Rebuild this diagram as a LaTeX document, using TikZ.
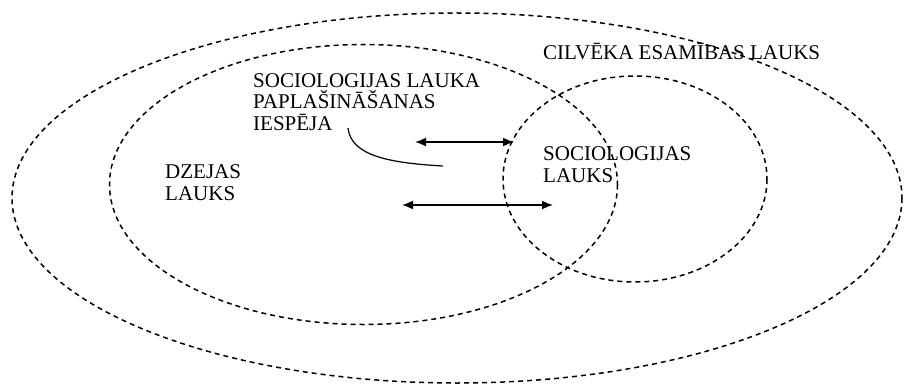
\documentclass[tikz,border=0pt]{standalone}
\usepackage{fontspec}
\setmainfont{Liberation Serif}
\usetikzlibrary{arrows.meta}
\begin{document}
\begin{tikzpicture}[x=1pt,y=-1pt,
  field/.style={draw=black,line width=1.5pt,dash pattern=on 5pt off 4pt},
  lbl/.style={font=\fontsize{21}{21.5}\selectfont,inner sep=0pt,anchor=base west,align=left},
  dbl/.style={line width=1.6pt,{Latex[length=11pt,width=9pt]}-{Latex[length=11pt,width=9pt]}}]
\useasboundingbox (0,0) rectangle (904,385);
% fields
\draw[field] (457,198) ellipse [x radius=445, y radius=185];
\draw[field] (363.5,184.5) ellipse [x radius=254, y radius=140];
\draw[field] (635,179) ellipse [x radius=132, y radius=103];
% labels (base anchor = baseline of the last line)
\node[lbl] (cel) at (543,60) {CILVĒKA ESAMĪBAS LAUKS};
\node[lbl] (spl) at (253,130) {SOCIOLOGIJAS LAUKA\\PAPLAŠINĀŠANAS\\IESPĒJA};
\node[lbl] (dz) at (165,200) {DZEJAS\\LAUKS};
\node[lbl] (sl) at (543,182) {SOCIOLOGIJAS\\LAUKS};
% arrows
\coordinate (a1) at (415,142);
\coordinate (a2) at (514,142);
\coordinate (b1) at (402,205);
\coordinate (b2) at (553,205);
\draw[dbl] (a1) -- (a2);
\draw[dbl] (b1) -- (b2);
% pointer curve
\coordinate (c1) at (348,128);
\coordinate (c2) at (443,166);
\draw[line width=1.2pt] (c1) .. controls (351,156) and (390,163) .. (c2);
\end{tikzpicture}
\end{document}
